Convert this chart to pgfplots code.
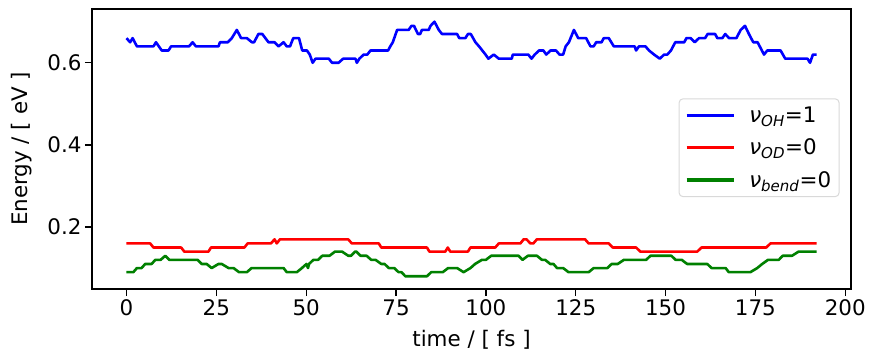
\documentclass[border=0pt]{standalone}
\usepackage{fontspec}
\setmainfont{DejaVu Sans}
\usepackage{pgfplots}
\pgfplotsset{compat=1.18}
\definecolor{mplgreen}{RGB}{0,128,0}
\begin{document}
\begin{tikzpicture}
\begin{axis}[name=ax, scale only axis, width=759bp, height=280bp,
  xmin=-9.6, xmax=201.6, ymin=0.049, ymax=0.731,
  xtick={0,25,...,200}, ytick={0.2,0.4,0.6},
  tick pos=left, tick align=outside, major tick length=7bp,
  tick style={line width=1.3bp, black},
  axis line style={line width=1.3bp},
  /pgf/number format/assume math mode=true,
  ticklabel style={font=\fontsize{21.5}{25}\selectfont},
  yticklabel style={/pgf/number format/.cd, fixed, fixed zerofill, precision=1},
  xlabel={time / [ fs ]}, ylabel={Energy / [ eV ]},
  label style={font=\fontsize{21.5}{25}\selectfont},
  xlabel style={at={(axis description cs:0.5,0)}, anchor=center, yshift=-51bp},
  ylabel style={at={(axis description cs:0,0.5)}, anchor=center, yshift=70bp},
  legend style={at={(0.985,0.681)}, anchor=north east, draw=black!15, line width=1bp,
    rounded corners=4bp, fill=white, font=\fontsize{21.5}{25}\selectfont,
    inner xsep=6bp, inner ysep=6bp, row sep=11bp,
    /tikz/every odd column/.append style={column sep=12bp}},
  legend cell align=left,
  legend image code/.code={\draw[#1, line width=3.2bp] (0bp,0bp) -- (47bp,0bp);},
  every axis plot/.append style={line width=2.6bp, line join=round},
]
\addplot[blue] coordinates {
(0,0.66) (1,0.65) (1.7,0.66) (2.9,0.64) (7.5,0.64) (8.2,0.65) (9.8,0.63) (11.7,0.63) (12.4,0.64) (17.4,0.64) (18.4,0.65) (19.3,0.64) (25.6,0.64) (26,0.65) (28.2,0.65) (29.3,0.66) (30.7,0.68) (31.9,0.66) (33.5,0.66) (34.9,0.65) (35.5,0.65) (36.7,0.67) (37.8,0.67) (39.5,0.65) (41.2,0.65) (42.3,0.64) (43.7,0.65) (44.6,0.64) (45.5,0.64) (46.4,0.66) (48,0.66) (48.9,0.63) (50.2,0.63) (51,0.62) (51.8,0.60) (52.6,0.61) (56.3,0.61) (57.2,0.60) (59,0.60) (60.3,0.61) (63.7,0.61) (64.1,0.60) (64.8,0.61) (66,0.62) (67,0.62) (67.9,0.63) (72.8,0.63) (73.4,0.64) (74.1,0.65) (75.3,0.68) (78.5,0.68) (79.3,0.69) (80,0.69) (81.1,0.67) (81.7,0.67) (82.2,0.68) (84.1,0.68) (84.6,0.69) (85.7,0.70) (86.9,0.68) (87.8,0.67) (92,0.67) (92.6,0.66) (94.3,0.66) (95,0.67) (95.8,0.67) (97.1,0.65) (98.1,0.64) (99,0.63) (99.9,0.62) (100.7,0.61) (102.2,0.62) (103.6,0.61) (107.2,0.61) (107.5,0.62) (111.8,0.62) (112.7,0.61) (113.6,0.62) (114.8,0.63) (116,0.63) (116.8,0.62) (118,0.63) (119.5,0.63) (120.5,0.62) (121.5,0.62) (122.2,0.64) (123.1,0.65) (124.5,0.68) (125.7,0.66) (127.9,0.66) (129.1,0.64) (130,0.64) (130.7,0.65) (132.2,0.65) (132.8,0.66) (134.2,0.66) (135.6,0.64) (141.4,0.64) (141.8,0.63) (142.6,0.64) (144.4,0.64) (145.4,0.63) (146.8,0.62) (148.4,0.61) (149.6,0.62) (150.5,0.62) (151.5,0.63) (152.7,0.65) (155.2,0.65) (155.8,0.66) (157,0.66) (158.1,0.65) (159.3,0.66) (161,0.66) (161.7,0.67) (163.8,0.67) (164.4,0.66) (165.8,0.66) (166.6,0.67) (167.7,0.66) (169.7,0.66) (170.9,0.68) (172.1,0.69) (173.2,0.67) (174.4,0.65) (175.6,0.65) (176.2,0.64) (177.4,0.62) (178.3,0.63) (182,0.63) (183.3,0.61) (189.5,0.61) (190.2,0.60) (191,0.62) (192,0.62)
};
\addlegendentry{\textit{ν}\textsubscript{\textit{OH}}=1}
\addplot[red] coordinates {
(0,0.16) (6.6,0.16) (7.5,0.15) (15.2,0.15) (16.1,0.14) (22.8,0.14) (23.5,0.15) (32.8,0.15) (33.7,0.16) (40.2,0.16) (41.2,0.17) (41.8,0.16) (42.7,0.17) (61.7,0.17) (62.7,0.16) (70.2,0.16) (70.9,0.15) (83.6,0.15) (84.3,0.14) (88.7,0.14) (89.4,0.15) (90.1,0.14) (95,0.14) (95.7,0.15) (102.6,0.15) (103.6,0.16) (109.6,0.16) (110.5,0.17) (111.3,0.17) (112.4,0.16) (113.2,0.16) (114.2,0.17) (127.6,0.17) (128.6,0.16) (134.2,0.16) (135.3,0.15) (141.8,0.15) (143,0.14) (158.8,0.14) (160,0.15) (178,0.15) (179.2,0.16) (192,0.16)
};
\addlegendentry{\textit{ν}\textsubscript{\textit{OD}}=0}
\addplot[mplgreen] coordinates {
(0,0.09) (1.9,0.09) (2.9,0.10) (4.2,0.10) (5.2,0.11) (7,0.11) (8,0.12) (9.5,0.12) (10.8,0.13) (11.9,0.12) (19.8,0.12) (20.9,0.11) (22.3,0.11) (23.7,0.10) (25.6,0.11) (26.5,0.11) (28.4,0.10) (29.8,0.10) (31.3,0.09) (33.5,0.09) (34.8,0.10) (43.7,0.10) (44.6,0.09) (47.4,0.09) (48.8,0.10) (50.1,0.11) (50.5,0.10) (50.8,0.11) (52,0.12) (53.3,0.12) (54.5,0.13) (56.5,0.13) (58,0.14) (60,0.14) (61.7,0.13) (62.5,0.13) (63.6,0.14) (64,0.14) (65.1,0.13) (66.8,0.13) (68.1,0.12) (69.3,0.12) (70.9,0.11) (71.8,0.11) (73,0.10) (74.5,0.10) (75.7,0.09) (76.5,0.09) (77.6,0.08) (83.6,0.08) (84.8,0.09) (88,0.09) (89.5,0.10) (92,0.10) (93.8,0.09) (95.7,0.10) (97,0.11) (98.9,0.12) (100,0.12) (101.5,0.13) (109.1,0.13) (110.2,0.12) (111.7,0.13) (114.2,0.13) (115.6,0.12) (116.5,0.12) (117.9,0.11) (118.8,0.11) (119.8,0.10) (121.5,0.10) (123,0.09) (128.6,0.09) (130,0.10) (133.8,0.10) (135,0.11) (136.7,0.11) (138.4,0.12) (144.6,0.12) (145.8,0.13) (151.6,0.13) (152.8,0.12) (154.5,0.12) (156,0.11) (161.6,0.11) (162.8,0.10) (166.7,0.10) (167.6,0.09) (173.6,0.09) (175.5,0.10) (176.9,0.11) (178.5,0.12) (181.5,0.12) (182.6,0.13) (185.2,0.13) (187,0.14) (192,0.14)
};
\addlegendentry{\textit{ν}\textsubscript{\textit{bend}}=0}
\end{axis}
\path ([shift={(-92bp,-64bp)}]ax.south west) rectangle ([shift={(20bp,9bp)}]ax.north east);
\end{tikzpicture}
\end{document}
